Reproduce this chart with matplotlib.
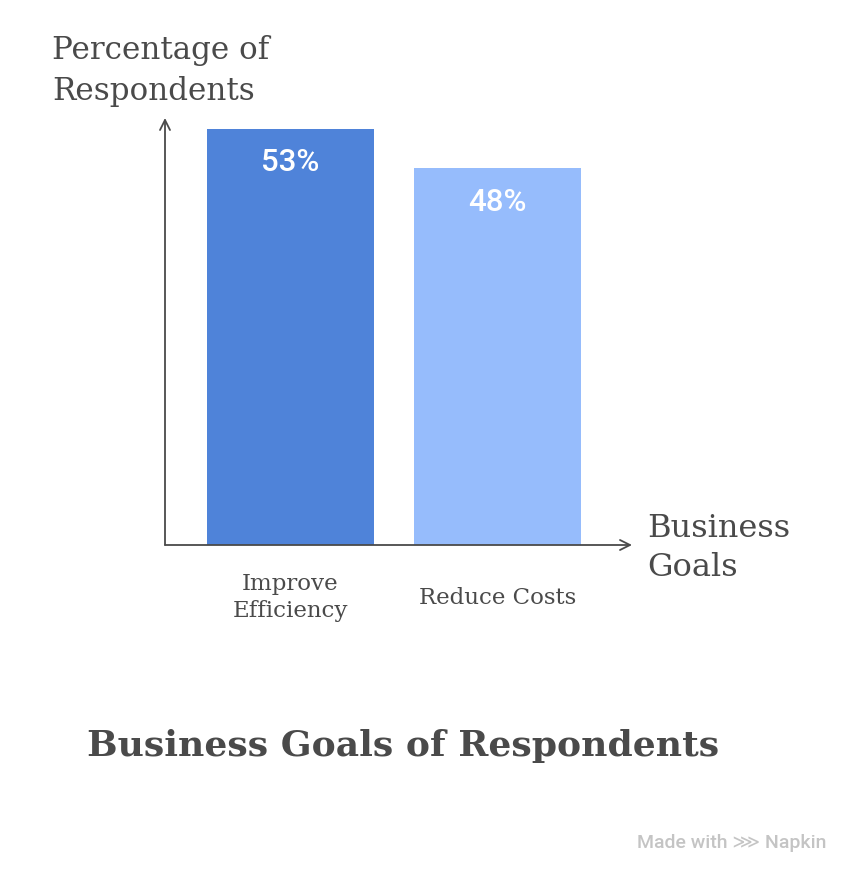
import matplotlib
matplotlib.use("Agg")
import matplotlib.pyplot as plt

categories = ["Improve\nEfficiency", "Reduce Costs"]
values = [53, 48]
value_labels = ["53%", "48%"]
colors = ["#4F83D9", "#96BCFC"]

W, H = 850, 873
fig = plt.figure(figsize=(W / 100, H / 100), dpi=100)

# axes placement in pixels
left, right, bottom, top = 165, 632, 545, 118
ax = fig.add_axes([left / W, 1 - bottom / H, (right - left) / W, (bottom - top) / H])
ax.set_xlim(-0.606, 1.650)
ax.set_ylim(0, (bottom - top) / 7.85)
for s in ax.spines.values():
    s.set_visible(False)
ax.set_xticks([])
ax.set_yticks([])
ax.patch.set_alpha(0)

x = list(range(len(categories)))
ax.bar(x, values, width=0.807, color=colors, zorder=1)

axis_col = "#4a4a4a"
ax.annotate("", xy=(1, 0), xytext=(0, 0), xycoords="axes fraction",
            arrowprops=dict(arrowstyle="->", color=axis_col, lw=1.3,
                            mutation_scale=18, shrinkA=0, shrinkB=0))
ax.annotate("", xy=(0, 1), xytext=(0, 0), xycoords="axes fraction",
            arrowprops=dict(arrowstyle="->", color=axis_col, lw=1.3,
                            mutation_scale=18, shrinkA=0, shrinkB=0))

for xi, v, lab in zip(x, values, value_labels):
    ax.annotate(lab, xy=(xi, v), xytext=(0, -24.5), textcoords="offset points",
                ha="center", va="center", color="white", fontsize=22.5,
                family="Roboto", fontweight="medium")

serif = "DejaVu Serif"
txt = "#4a4a4a"
for xi, c in zip(x, categories):
    ax.annotate(c, xy=(xi, 0), xytext=(0, -38), textcoords="offset points",
                ha="center", va="center", color=txt, fontsize=16.5,
                family=serif, linespacing=1.3)

fig.text(52 / W, 1 - 71 / H, "Percentage of\nRespondents", ha="left", va="center",
         color=txt, fontsize=22.3, family=serif, linespacing=1.4)
fig.text(647 / W, 1 - 548 / H, "Business\nGoals", ha="left", va="center",
         color=txt, fontsize=23, family=serif, linespacing=1.35)
fig.text(87 / W, 1 - 746 / H, "Business Goals of Respondents", ha="left", va="center",
         color=txt, fontsize=26, family=serif, fontweight="bold")
fig.text(826 / W, 1 - 843 / H, "Made with ⋙ Napkin", ha="right", va="center",
         color="#c4c4c4", fontsize=14, family=["Roboto", "DejaVu Sans"],
         fontweight="medium")

fig.savefig("out.png", dpi=100, facecolor="white")
